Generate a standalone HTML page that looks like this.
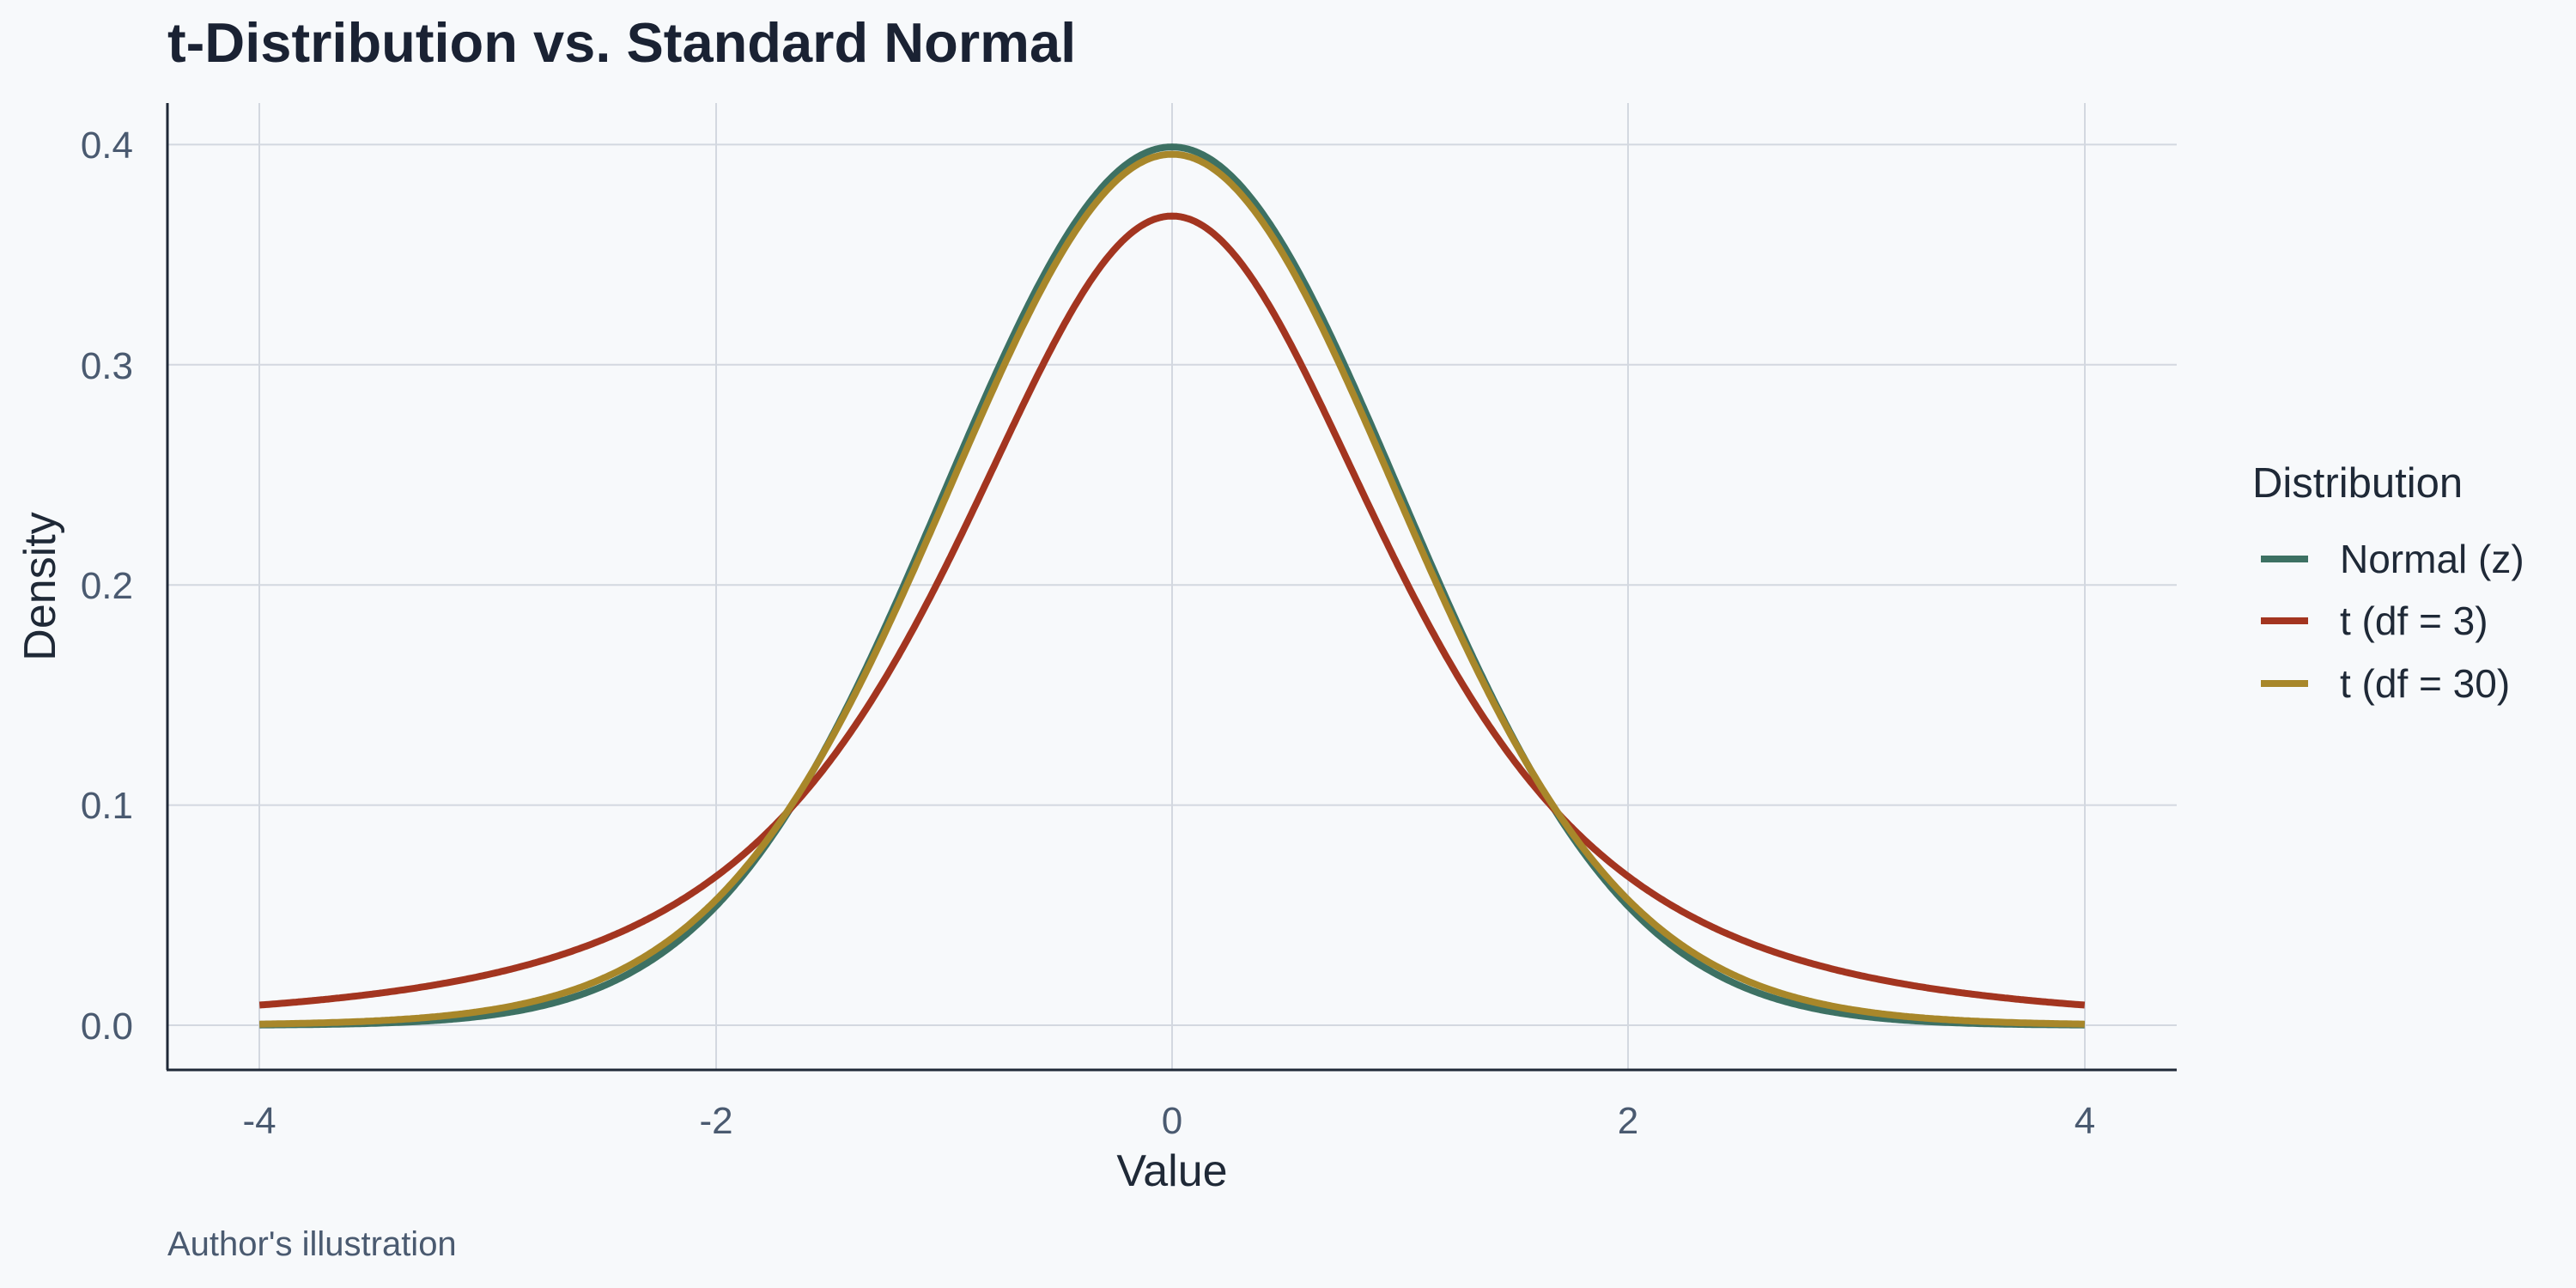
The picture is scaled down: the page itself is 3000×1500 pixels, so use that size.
<!DOCTYPE html>
<html><head><meta charset="utf-8"><style>
html,body{margin:0;padding:0;background:#f7f9fb;}
svg{display:block;font-family:"Liberation Sans",sans-serif;}
</style></head><body>
<svg id="s" width="3000" height="1500" viewBox="0 0 3000 1500" xmlns="http://www.w3.org/2000/svg">
<rect width="3000" height="1500" fill="#f7f9fb"/>
<g stroke="#d3d8e0" stroke-width="2">
<line x1="302" y1="120" x2="302" y2="1245"/>
<line x1="834" y1="120" x2="834" y2="1245"/>
<line x1="1365" y1="120" x2="1365" y2="1245"/>
<line x1="1896" y1="120" x2="1896" y2="1245"/>
<line x1="2428" y1="120" x2="2428" y2="1245"/>
<line x1="195" y1="1194" x2="2535" y2="1194"/>
<line x1="195" y1="937.6" x2="2535" y2="937.6"/>
<line x1="195" y1="681.2" x2="2535" y2="681.2"/>
<line x1="195" y1="424.8" x2="2535" y2="424.8"/>
<line x1="195" y1="168.4" x2="2535" y2="168.4"/>
</g>
<g stroke="#1f2937" stroke-width="3">
<line x1="195" y1="120" x2="195" y2="1246"/>
<line x1="194" y1="1246" x2="2535" y2="1246"/>
</g>
<g id="curves" fill="none" stroke-width="8" stroke-linejoin="round"></g>
<g fill="#4a5a70" font-size="44" text-anchor="end">
<text x="155" y="1210">0.0</text>
<text x="155" y="953">0.1</text>
<text x="155" y="697">0.2</text>
<text x="155" y="441">0.3</text>
<text x="155" y="184">0.4</text>
</g>
<g fill="#4a5a70" font-size="44" text-anchor="middle">
<text x="302" y="1320">-4</text>
<text x="834" y="1320">-2</text>
<text x="1365" y="1320">0</text>
<text x="1896" y="1320">2</text>
<text x="2428" y="1320">4</text>
</g>
<text x="1365" y="1381" font-size="52" fill="#1f2937" text-anchor="middle">Value</text>
<text transform="translate(64,683) rotate(-90)" font-size="52" fill="#1f2937" text-anchor="middle">Density</text>
<text x="195" y="72" font-size="65" font-weight="bold" fill="#1a2233">t-Distribution vs. Standard Normal</text>
<text x="195" y="1462" font-size="40" fill="#4a5a70">Author's illustration</text>
<text x="2623" y="579" font-size="49" fill="#1f2937">Distribution</text>
<g stroke-width="8">
<line x1="2633" y1="651" x2="2688" y2="651" stroke="#3d7163"/>
<line x1="2633" y1="723" x2="2688" y2="723" stroke="#a33520"/>
<line x1="2633" y1="796" x2="2688" y2="796" stroke="#a8872a"/>
</g>
<g font-size="46" fill="#1f2937">
<text x="2725" y="667">Normal (z)</text>
<text x="2725" y="739">t (df = 3)</text>
<text x="2725" y="812">t (df = 30)</text>
</g>
</svg>
<script>
function lg(z){var g=7,c=[0.99999999999980993,676.5203681218851,-1259.1392167224028,771.32342877765313,-176.61502916214059,12.507343278686905,-0.13857109526572012,9.9843695780195716e-6,1.5056327351493116e-7];z-=1;var x=c[0];for(var i=1;i<g+2;i++)x+=c[i]/(z+i);var t=z+g+0.5;return 0.5*Math.log(2*Math.PI)+(z+0.5)*Math.log(t)-t+Math.log(x);}
function tp(x,v){return Math.exp(lg((v+1)/2)-lg(v/2)-0.5*Math.log(v*Math.PI)-(v+1)/2*Math.log(1+x*x/v));}
function np(x){return Math.exp(-x*x/2)/Math.sqrt(2*Math.PI);}
function path(f){var d="";for(var i=0;i<=800;i++){var x=-4+8*i/800;var px=1365+x*265.7,py=1194-f(x)*2564;d+=(i?"L":"M")+px.toFixed(1)+","+py.toFixed(1);}return d;}
var g=document.getElementById("curves"),ns="http://www.w3.org/2000/svg";
[[np,"#3d7163"],[function(x){return tp(x,3)},"#a33520"],[function(x){return tp(x,30)},"#a8872a"]].forEach(function(a){var p=document.createElementNS(ns,"path");p.setAttribute("d",path(a[0]));p.setAttribute("stroke",a[1]);g.appendChild(p);});
</script>
</body></html>
